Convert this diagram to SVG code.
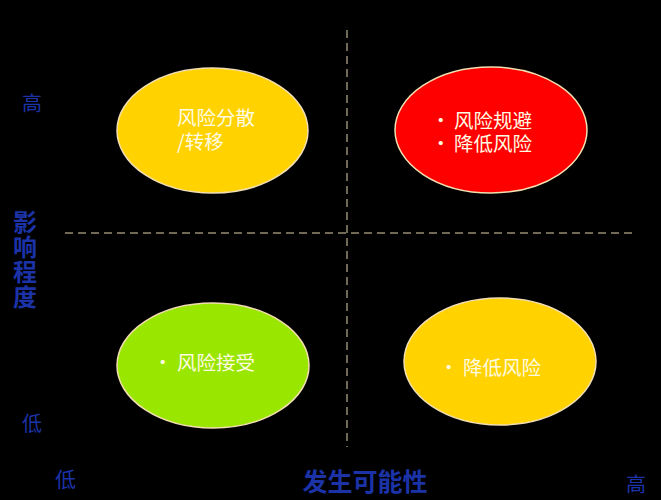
<svg xmlns="http://www.w3.org/2000/svg" width="661" height="500" viewBox="0 0 661 500">
<style>
.bg{fill:#000}
.ell{stroke:#f2dfb0;stroke-width:1.5}
.lbl{font-family:"Noto Sans CJK SC","Noto Sans",sans-serif;font-size:19.5px;fill:#fffbe3}
.ax{font-family:"Noto Sans CJK SC","Noto Sans",sans-serif;fill:#1c33a8}
.axb{font-family:"Noto Sans CJK SC","Noto Sans",sans-serif;fill:#1c33a8;font-weight:bold}
.dash{stroke:#e0d2aa;stroke-width:1;stroke-dasharray:8 5;fill:none}
</style>
<rect class="bg" x="0" y="0" width="661" height="500"/>
<g id="connectors">
<line class="dash" x1="347" y1="30" x2="347" y2="447"/>
<line class="dash" x1="65" y1="233" x2="637" y2="233"/>
</g>
<g id="node-spread">
<ellipse class="ell" cx="212.5" cy="130.5" rx="95.5" ry="62.5" fill="#ffd200"/>
<text class="lbl"><tspan x="177" y="125">风险分散</tspan><tspan x="177" y="149">/转移</tspan></text>
</g>
<g id="node-avoid">
<ellipse class="ell" cx="491" cy="130" rx="96" ry="63" fill="#ff0000"/>
<text class="lbl"><tspan x="431" y="128">•</tspan><tspan x="454" y="128">风险规避</tspan><tspan x="431" y="151">•</tspan><tspan x="454" y="151">降低风险</tspan></text>
</g>
<g id="node-accept">
<ellipse class="ell" cx="213" cy="365.5" rx="96" ry="62.5" fill="#99e600"/>
<text class="lbl"><tspan x="153" y="370">•</tspan><tspan x="177" y="370">风险接受</tspan></text>
</g>
<g id="node-reduce">
<ellipse class="ell" cx="500" cy="361.5" rx="96" ry="63.5" fill="#ffd200"/>
<text class="lbl"><tspan x="439" y="375">•</tspan><tspan x="463" y="375">降低风险</tspan></text>
</g>
<g id="axes">
<text class="ax" x="22" y="111" font-size="20">高</text>
<text class="ax" x="22" y="431" font-size="20">低</text>
<text class="axb" x="25" y="210" font-size="24" writing-mode="tb" letter-spacing="1">影响程度</text>
<text class="ax" x="55" y="487" font-size="21">低</text>
<text class="axb" x="365" y="491" font-size="25" text-anchor="middle">发生可能性</text>
<text class="ax" x="626" y="492" font-size="20">高</text>
</g>
</svg>
